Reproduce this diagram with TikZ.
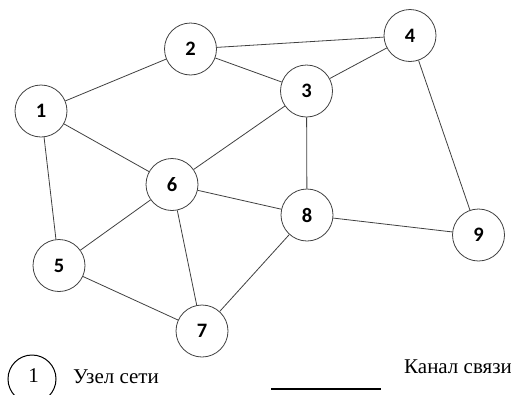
\documentclass[tikz,border=0pt]{standalone}
\usepackage{fontspec}
\setmainfont{Liberation Serif}
\newfontfamily\numfont{Carlito}
\begin{document}
\begin{tikzpicture}[x=1pt,y=-1pt,
  netnode/.style={circle,draw=black!75,line width=0.8pt,minimum size=52pt,inner sep=0pt,font=\numfont\bfseries\fontsize{20.5}{20.5}\selectfont},
  link/.style={draw=black!75,line width=0.8pt},
  legtext/.style={anchor=base west,inner sep=0pt,font=\fontsize{21}{21}\selectfont}]
\useasboundingbox (0,0) rectangle (511,394);
\node[netnode] (n1) at (41,111) {1};
\node[netnode] (n2) at (190.5,49) {2};
\node[netnode] (n3) at (306.5,91) {3};
\node[netnode] (n4) at (410,35.5) {4};
\node[netnode] (n5) at (59,265.5) {5};
\node[netnode] (n6) at (172,184.5) {6};
\node[netnode] (n7) at (202,331) {7};
\node[netnode] (n8) at (307,215) {8};
\node[netnode] (n9) at (478.5,235) {9};
\foreach \a/\b in {n1/n2,n1/n6,n1/n5,n2/n3,n2/n4,n3/n4,n3/n6,n3/n8,n4/n9,n6/n5,n6/n7,n6/n8,n8/n9,n8/n7,n5/n7}
  \draw[link] (\a) -- (\b);
\node[circle,draw=black,line width=1pt,minimum size=48pt,inner sep=0pt] (leg) at (32,379) {};
\node[inner sep=0pt,font=\fontsize{21}{21}\selectfont] (legn) at (33.5,375.5) {1};
\node[legtext] (legl) at (73,383) {Узел сети};
\coordinate (la) at (271,389);
\coordinate (lb) at (381,389);
\draw[black,line width=1.4pt] (la) -- (lb);
\node[legtext] (legc) at (404,373) {Канал связи};
\end{tikzpicture}
\end{document}
